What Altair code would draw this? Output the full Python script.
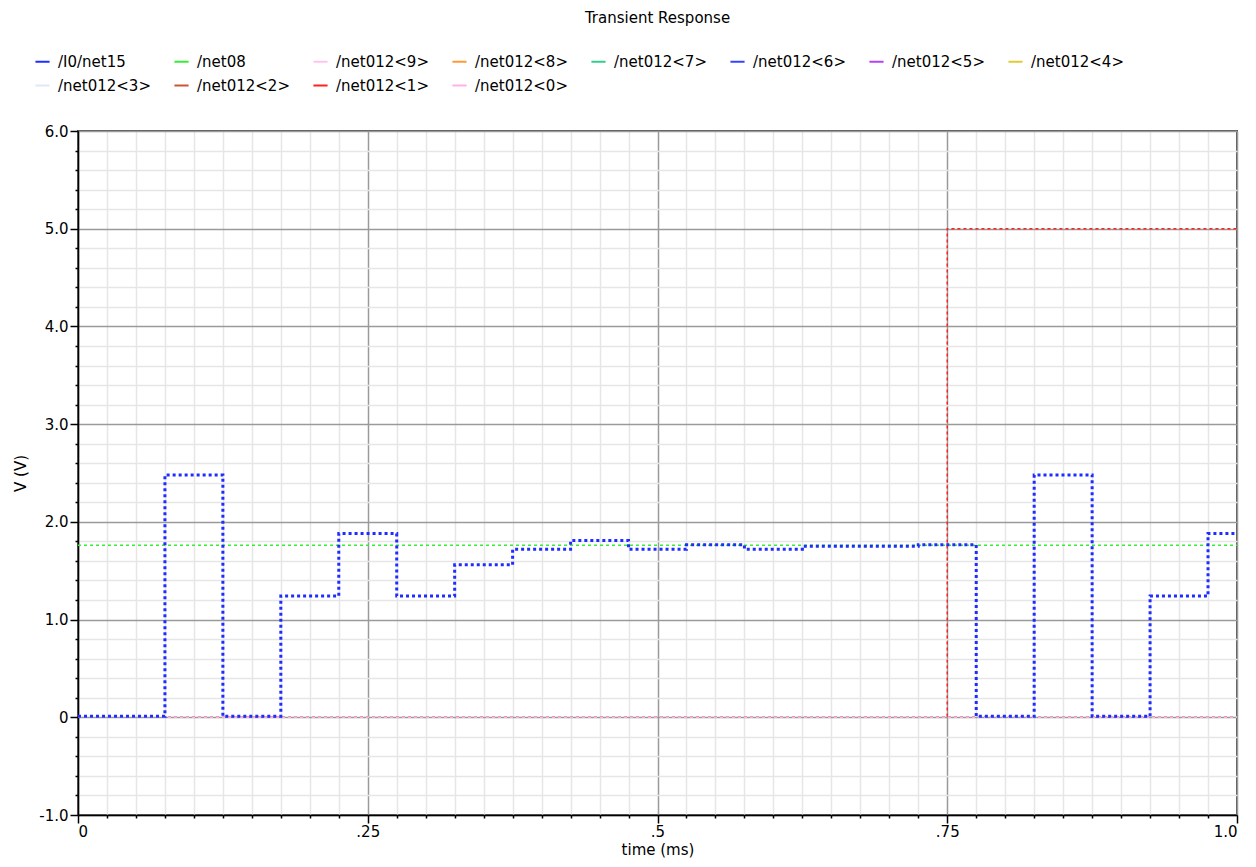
import altair as alt
import pandas as pd

# ---- data ----
series_names = ["/I0/net15", "/net08", "/net012<9>", "/net012<8>", "/net012<7>", "/net012<6>",
                "/net012<5>", "/net012<4>", "/net012<3>", "/net012<2>", "/net012<1>", "/net012<0>"]
series_colors = ["#1f2cff", "#33ee33", "#ffc4ee", "#ff9933", "#33cc88", "#3344ff",
                 "#b540f5", "#ddcc33", "#dfe8f8", "#cc5533", "#ff2020", "#ffb0e8"]

t_net15 = [0.0, 0.075, 0.125, 0.175, 0.225, 0.275, 0.325, 0.375, 0.425, 0.475, 0.525,
           0.575, 0.625, 0.725, 0.775, 0.825, 0.875, 0.925, 0.975, 1.0]
v_net15 = [0.01, 2.48, 0.01, 1.24, 1.88, 1.24, 1.56, 1.72, 1.81, 1.72, 1.765,
           1.72, 1.75, 1.765, 0.01, 2.48, 0.01, 1.24, 1.88, 1.88]

t_net08 = [0.0, 1.0]
v_net08 = [1.76, 1.76]

t_net012_1 = [0.0, 0.75, 1.0]
v_net012_1 = [0.0, 5.0, 5.0]

zero_series = ["/net012<9>", "/net012<8>", "/net012<7>", "/net012<6>", "/net012<5>",
               "/net012<4>", "/net012<3>", "/net012<2>", "/net012<0>"]
t_zero = [0.0, 1.0]
v_zero = [0.0, 0.0]

x_major = [0.0, 0.25, 0.5, 0.75, 1.0]
x_major_labels = ["0", ".25", ".5", ".75", "1.0"]
x_minor = [i / 40 for i in range(41)]
y_major = [-1.0, 0.0, 1.0, 2.0, 3.0, 4.0, 5.0, 6.0]
y_major_labels = ["-1.0", "0", "1.0", "2.0", "3.0", "4.0", "5.0", "6.0"]
y_minor = [round(-1.0 + i * 0.2, 4) for i in range(36)]

# ---- tables ----
def frame(name, ts, vs):
    return pd.DataFrame({"series": name, "t": ts, "v": vs})

df_zero = pd.concat([frame(n, t_zero, v_zero) for n in zero_series], ignore_index=True)
df_red = frame("/net012<1>", t_net012_1, v_net012_1)
df_green = frame("/net08", t_net08, v_net08)
df_blue = frame("/I0/net15", t_net15, v_net15)

FONT = "DejaVu Sans"

def major_test(vals):
    return " || ".join(f"abs(datum.value - ({v})) < 1e-6" for v in vals)

def label_expr(vals, labels):
    return " : ".join(f"abs(datum.value - ({v})) < 1e-6 ? '{l}'" for v, l in zip(vals, labels)) + " : ''"

def make_axis(minor, major, labels, title, label_padding, title_padding):
    return alt.Axis(values=minor, labelExpr=label_expr(major, labels),
                    title=title, grid=True,
                    gridColor={"condition": {"test": major_test(major), "value": "#9a9a9a"}, "value": "#e6e6e6"},
                    gridWidth=1.5,
                    tickSize={"condition": {"test": major_test(major), "value": 8}, "value": 3},
                    tickColor="#000000", tickWidth=1.5,
                    domainColor="#000000", domainWidth=1.5,
                    labelFont=FONT, labelFontSize=15, labelColor="#000000",
                    titleFont=FONT, titleFontSize=15, titleFontWeight="normal", titleColor="#000000",
                    labelPadding=label_padding, titlePadding=title_padding)

x_enc = alt.X("t:Q", scale=alt.Scale(domain=[0, 1], nice=False, zero=False),
              axis=make_axis(x_minor, x_major, x_major_labels, "time (ms)", 1, 3))
y_enc = alt.Y("v:Q", scale=alt.Scale(domain=[-1, 6], nice=False, zero=False),
              axis=make_axis(y_minor, y_major, y_major_labels, "V (V)", 2, 10))
color_enc = alt.Color("series:N",
                      scale=alt.Scale(domain=series_names, range=series_colors),
                      legend=alt.Legend(title=None, orient="none", legendX=-44, legendY=-78,
                                        direction="horizontal", columns=8, gridAlign="all",
                                        symbolType="stroke", symbolSize=200, symbolStrokeWidth=2,
                                        symbolDash=[1, 0], labelOffset=7,
                                        columnPadding=19, rowPadding=7, padding=0,
                                        labelFont=FONT, labelFontSize=15, labelLimit=200))

red_layer = alt.Chart(df_red).mark_line(interpolate="step-after", strokeWidth=1.5,
                                         strokeDash=[3, 3]).encode(x=x_enc, y=y_enc, color=color_enc)
zero_layer = alt.Chart(df_zero).mark_line(interpolate="step-after", strokeWidth=1.6,
                                           strokeDash=[3, 3]).encode(x=x_enc, y=y_enc, color=color_enc,
                                                                     detail="series:N")
green_layer = alt.Chart(df_green).mark_line(interpolate="step-after", strokeWidth=1.5,
                                             strokeDash=[3, 3]).encode(x=x_enc, y=y_enc, color=color_enc)
blue_layer = alt.Chart(df_blue).mark_line(interpolate="step-after", strokeWidth=3,
                                           strokeDash=[3, 3]).encode(x=x_enc, y=y_enc, color=color_enc)

chart = alt.layer(red_layer, zero_layer, green_layer, blue_layer).properties(
    width=1159, height=684,
    title=alt.TitleParams("Transient Response", font=FONT, fontSize=15, fontWeight="normal",
                          color="#000000", anchor="middle", offset=27),
    autosize=alt.AutoSizeParams(type="none"),
    padding={"left": 70, "top": 123, "right": 10, "bottom": 44},
    background="#ffffff",
).configure_view(stroke="#555555", strokeWidth=2)

chart.save("out.html", embed_options={"renderer": "svg", "actions": False})
